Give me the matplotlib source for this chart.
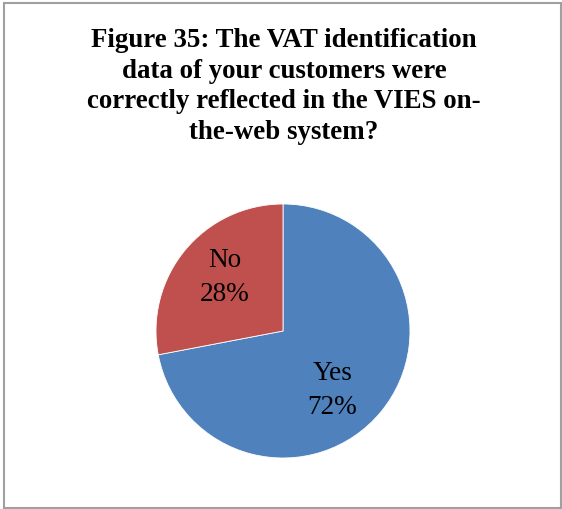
import matplotlib
matplotlib.use("Agg")
import matplotlib.pyplot as plt
from matplotlib.patches import Rectangle

categories = ["Yes", "No"]
values = [72, 28]
colors = ["#4F81BD", "#C0504D"]
title = "Figure 35: The VAT identification\ndata of your customers were\ncorrectly reflected in the VIES on-\nthe-web system?"

fig = plt.figure(figsize=(5.62, 5.10), dpi=100)
fig.patch.set_facecolor("white")

# border
fig.add_artist(Rectangle((3.5 / 562, 1.5 / 510), 557 / 562, 505 / 510,
                         transform=fig.transFigure, fill=False,
                         edgecolor="#A0A0A0", linewidth=1.5))

# va="baseline" on multi-line text aligns the last line's baseline
fig.text(284 / 562, 1 - 139 / 510, title, ha="center", va="baseline",
         fontsize=19.4, fontweight="bold", family="Liberation Serif",
         linespacing=1.3)

ax = fig.add_axes([(283 - 127) / 562, (510 - 459) / 510, 254 / 562, 254 / 510])
wedges, texts = ax.pie(values, colors=colors, startangle=90, counterclock=False,
                       labels=[f"{c}\n{v}%" for c, v in zip(categories, values)],
                       labeldistance=0.62,
                       wedgeprops=dict(edgecolor="white", linewidth=0.6),
                       textprops=dict(family="Liberation Serif", fontsize=19.6,
                                      ha="center", va="center", linespacing=1.5))
for t in texts:
    t.set_ha("center")
texts[0].set_position((0.39, -0.46))
texts[1].set_position((-0.46, 0.43))
ax.set_aspect("equal")
ax.set_xlim(-1, 1)
ax.set_ylim(-1, 1)

fig.savefig("out.png", dpi=100)
